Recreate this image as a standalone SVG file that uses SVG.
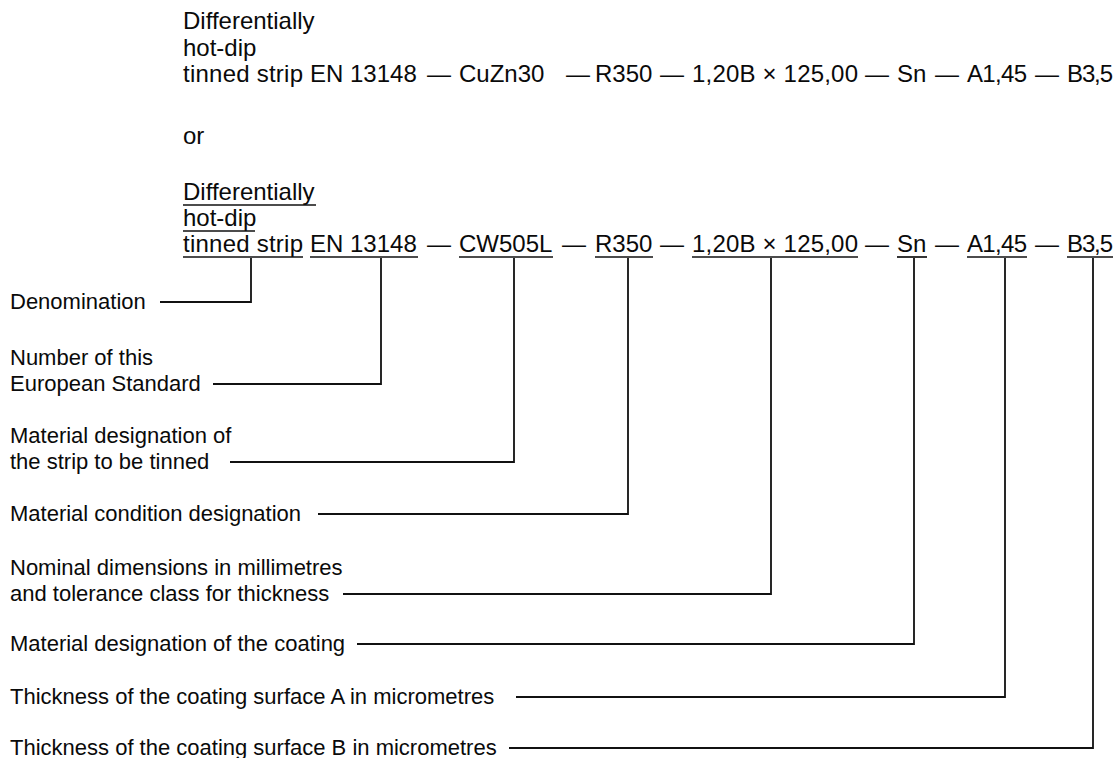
<svg xmlns="http://www.w3.org/2000/svg" width="1119" height="758" viewBox="0 0 1119 758">
<style>
text{font-family:"Liberation Sans",Arial,Helvetica,sans-serif;fill:#0a0a0a}
.h{font-size:24px}
.l{font-size:22px}
.u{stroke:#111;stroke-width:1.7}
.c{fill:none;stroke:#111;stroke-width:1.8}
</style>
<rect width="1119" height="758" fill="#fff"/>
<g id="example1">
<text class="h" x="183" y="29">Differentially</text>
<text class="h" x="183" y="56">hot-dip</text>
<text class="h" x="183" y="82" textLength="120">tinned strip</text>
<text class="h" x="310" y="82">EN 13148</text>
<text class="h" x="427" y="82">—</text>
<text class="h" x="459" y="82">CuZn30</text>
<text class="h" x="566" y="82">—</text>
<text class="h" x="595" y="82">R350</text>
<text class="h" x="660" y="82">—</text>
<text class="h" x="692" y="82" textLength="166">1,20B × 125,00</text>
<text class="h" x="865" y="82">—</text>
<text class="h" x="897" y="82">Sn</text>
<text class="h" x="935" y="82">—</text>
<text class="h" x="967" y="82" textLength="60">A1,45</text>
<text class="h" x="1035" y="82">—</text>
<text class="h" x="1067" y="82" textLength="46">B3,5</text>
</g>
<g id="or">
<text class="h" x="183" y="144">or</text>
</g>
<g id="example2">
<text class="h" x="183" y="200">Differentially</text>
<text class="h" x="183" y="226">hot-dip</text>
<text class="h" x="183" y="252" textLength="120">tinned strip</text>
<text class="h" x="310" y="252">EN 13148</text>
<text class="h" x="427" y="252">—</text>
<text class="h" x="459" y="252">CW505L</text>
<text class="h" x="562" y="252">—</text>
<text class="h" x="595" y="252">R350</text>
<text class="h" x="660" y="252">—</text>
<text class="h" x="692" y="252" textLength="166">1,20B × 125,00</text>
<text class="h" x="865" y="252">—</text>
<text class="h" x="897" y="252">Sn</text>
<text class="h" x="935" y="252">—</text>
<text class="h" x="967" y="252" textLength="60">A1,45</text>
<text class="h" x="1035" y="252">—</text>
<text class="h" x="1067" y="252" textLength="46">B3,5</text>
<line class="u" x1="183" y1="205" x2="316" y2="205"/>
<line class="u" x1="183" y1="231" x2="255" y2="231"/>
<line class="u" x1="183" y1="257" x2="303" y2="257"/>
<line class="u" x1="310" y1="257" x2="418" y2="257"/>
<line class="u" x1="459" y1="257" x2="553" y2="257"/>
<line class="u" x1="595" y1="257" x2="653" y2="257"/>
<line class="u" x1="692" y1="257" x2="858" y2="257"/>
<line class="u" x1="897" y1="257" x2="927" y2="257"/>
<line class="u" x1="967" y1="257" x2="1027" y2="257"/>
<line class="u" x1="1067" y1="257" x2="1113" y2="257"/>
</g>
<g id="label-denomination"><text class="l" x="10" y="309">Denomination</text></g>
<g id="label-number"><text class="l" x="10" y="365">Number of this</text><text class="l" x="10" y="391">European Standard</text></g>
<g id="label-material"><text class="l" x="10" y="443">Material designation of</text><text class="l" x="10" y="469">the strip to be tinned</text></g>
<g id="label-condition"><text class="l" x="10" y="521">Material condition designation</text></g>
<g id="label-nominal"><text class="l" x="10" y="575">Nominal dimensions in millimetres</text><text class="l" x="10" y="601">and tolerance class for thickness</text></g>
<g id="label-coating"><text class="l" x="10" y="651">Material designation of the coating</text></g>
<g id="label-a"><text class="l" x="10" y="704">Thickness of the coating surface A in micrometres</text></g>
<g id="label-b"><text class="l" x="10" y="755">Thickness of the coating surface B in micrometres</text></g>
<g id="connectors">
<polyline class="c" points="160,302 251,302 251,258"/>
<polyline class="c" points="213,384 381,384 381,258"/>
<polyline class="c" points="230,462 514,462 514,258"/>
<polyline class="c" points="318,514 628,514 628,258"/>
<polyline class="c" points="343,594 771,594 771,258"/>
<polyline class="c" points="357,644 914,644 914,258"/>
<polyline class="c" points="516,697 1005,697 1005,258"/>
<polyline class="c" points="509,748 1093,748 1093,258"/>
</g>
</svg>
